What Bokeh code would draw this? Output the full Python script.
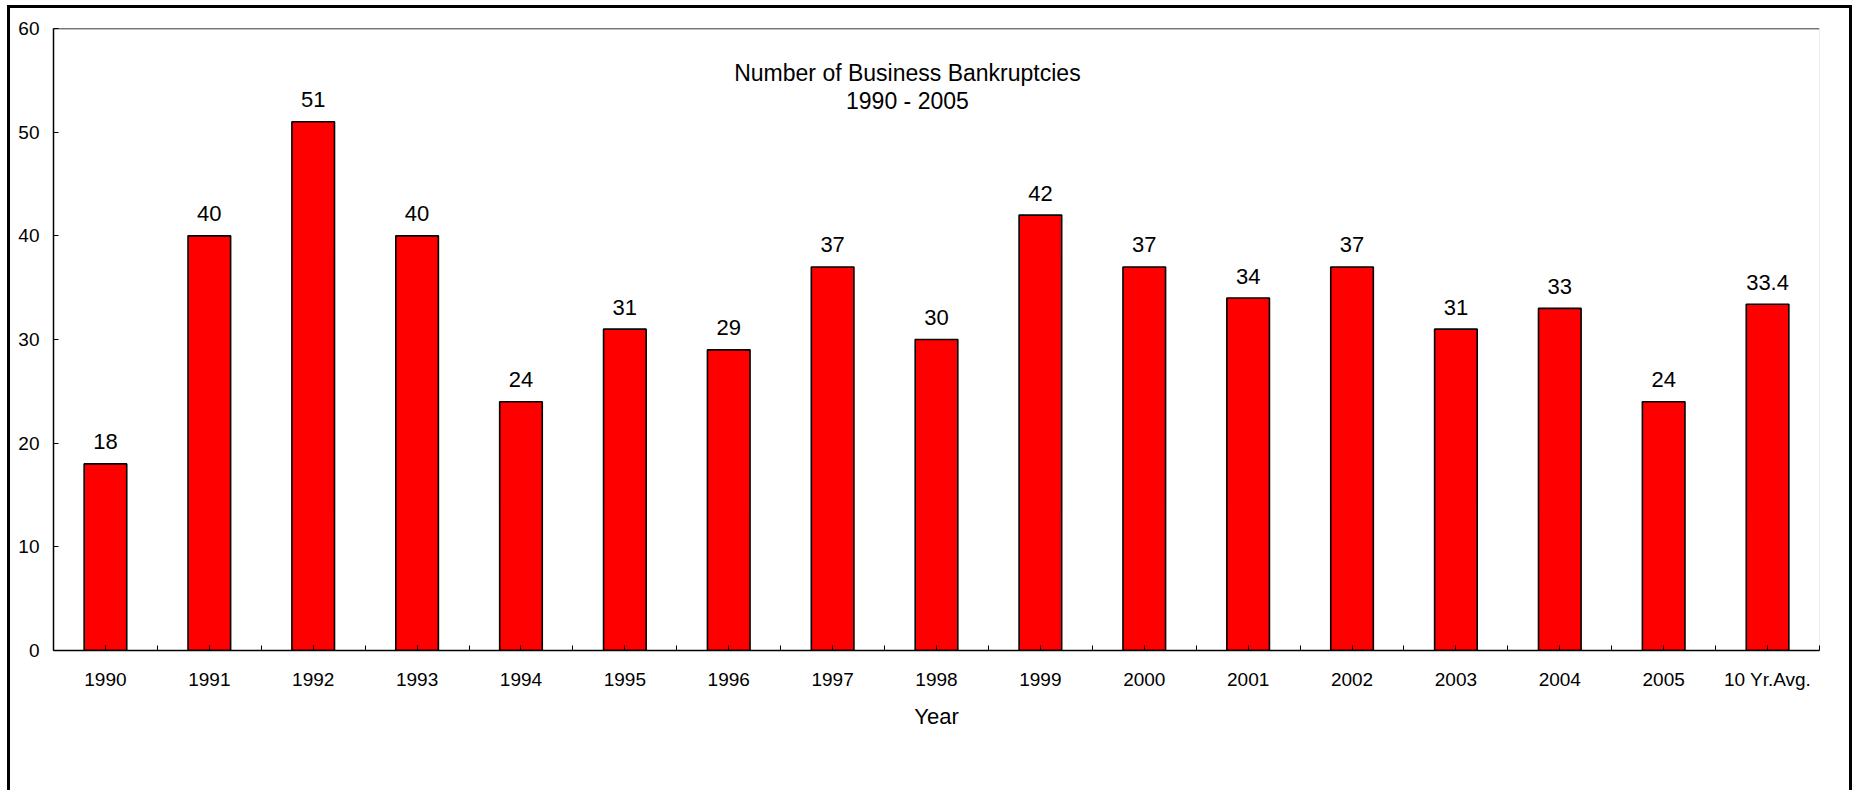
import numpy as np
from bokeh.plotting import figure
from bokeh.models import ColumnDataSource, FixedTicker, Label, Span
from bokeh.core.properties import value
from bokeh.embed import file_html
from bokeh.resources import INLINE

# ---- data ----
categories = ["1990", "1991", "1992", "1993", "1994", "1995", "1996", "1997",
              "1998", "1999", "2000", "2001", "2002", "2003", "2004", "2005",
              "10 Yr.Avg."]
bankruptcies = [18, 40, 51, 40, 24, 31, 29, 37, 30, 42, 37, 34, 37, 31, 33, 24, 33.4]
y_ticks = [0, 10, 20, 30, 40, 50, 60]
title_lines = ["Number of Business Bankruptcies", "1990 - 2005"]
x_title = "Year"

FONT = "Liberation Sans"
n = len(categories)
xs = np.arange(n) + 0.5
labels = [f"{v:g}" for v in bankruptcies]
src = ColumnDataSource(dict(x=xs, top=bankruptcies, label=labels))

border_css = ("linear-gradient(#000,#000) 7px 5px / 3px 2000px no-repeat, "
              "linear-gradient(#000,#000) 7px 5px / 1845px 3px no-repeat, "
              "linear-gradient(#000,#000) 1849px 5px / 3px 2000px no-repeat, #fff")

p = figure(width=1856, height=790, output_backend="svg", toolbar_location=None,
           x_range=(0, n), y_range=(0, 60),
           min_border_left=53, min_border_right=37, min_border_top=28, min_border_bottom=140,
           styles={"background": border_css})
p.background_fill_color = "white"
p.border_fill_color = None
p.outline_line_color = "#ececec"
p.grid.visible = False

p.vbar(x="x", top="top", width=0.41, source=src, fill_color="#FF0000",
       line_color="black", line_width=1.6)
p.text(x="x", y="top", text="label", source=src, text_align="center",
       text_baseline="alphabetic", y_offset=-22, text_font=value(FONT),
       text_font_size="22px", text_color="black")

# top line of plot area
p.add_layout(Span(location=60, dimension="width", line_color="black", line_width=1.5))

# axes
xa = p.xaxis[0]
xa.ticker = FixedTicker(ticks=list(xs), minor_ticks=list(np.arange(n + 1)))
xa.major_label_overrides = {float(x): c for x, c in zip(xs, categories)}
xa.major_tick_in = 5
xa.major_tick_out = 0
xa.minor_tick_in = 5
xa.minor_tick_out = 0
xa.major_tick_line_color = "black"
xa.minor_tick_line_color = "black"
xa.axis_line_color = "black"
xa.axis_line_width = 1.5
xa.major_label_text_font = FONT
xa.major_label_text_font_size = "19px"
xa.major_label_text_color = "black"
xa.major_label_standoff = 18
xa.axis_label = x_title
xa.axis_label_text_font = FONT
xa.axis_label_text_font_size = "22px"
xa.axis_label_text_font_style = "normal"
xa.axis_label_text_color = "black"
xa.axis_label_standoff = 11

ya = p.yaxis[0]
ya.ticker = FixedTicker(ticks=y_ticks)
ya.minor_tick_line_color = None
ya.major_tick_in = 5
ya.major_tick_out = 0
ya.major_tick_line_color = "black"
ya.axis_line_color = "black"
ya.axis_line_width = 1.5
ya.major_label_text_font = FONT
ya.major_label_text_font_size = "19px"
ya.major_label_text_color = "black"
ya.major_label_standoff = 14

# title inside plot
for txt, yy in zip(title_lines, [55.75, 53.05]):
    p.add_layout(Label(x=8.22, y=yy, text=txt, text_align="center", text_baseline="middle",
                       text_font=FONT, text_font_size="23px", text_color="black"))

open("out.html", "w").write(file_html(p, INLINE))
